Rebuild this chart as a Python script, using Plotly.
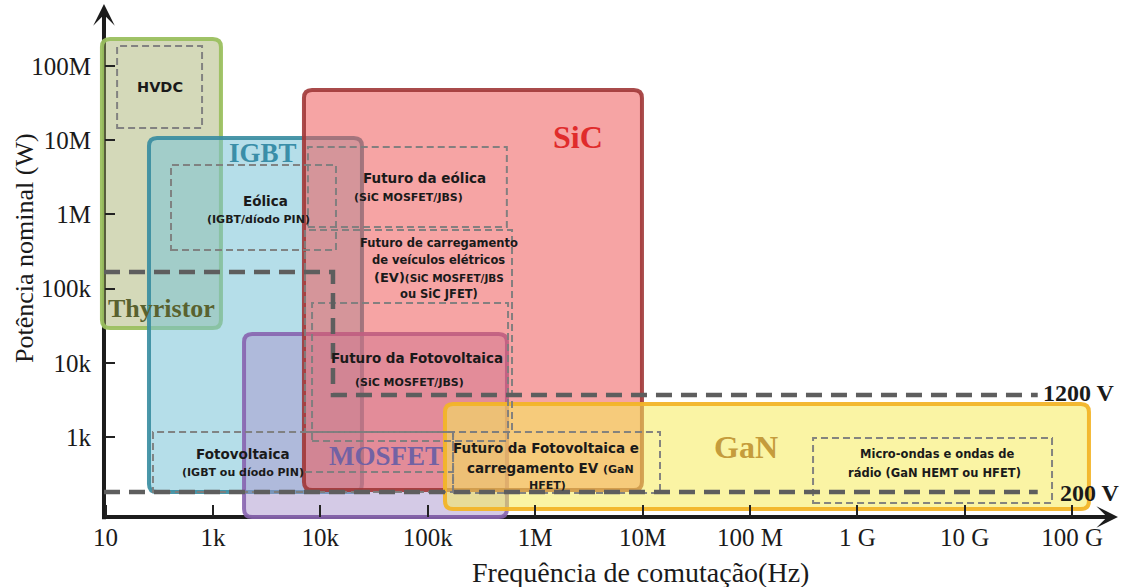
import plotly.graph_objects as go

# ---------------- data (x: decade position on frequency axis, y: log10 of power in W) -------------
freq_tick_pos = [0, 1, 2, 3, 4, 5, 6, 7, 8, 9]
freq_tick_labels = ["10", "1k", "10k", "100k", "1M", "10M", "100 M", "1 G", "10 G", "100 G"]
power_tick_pos = [3, 4, 5, 6, 7, 8]
power_tick_labels = ["1k", "10k", "100k", "1M", "10M", "100M"]

# drawing order: Thyristor, IGBT, MOSFET, SiC, GaN
device_names = ["Thyristor", "IGBT", "MOSFET", "SiC", "GaN"]
device_f_lo = [-0.033, 0.405, 1.290, 1.848, 3.161]
device_f_hi = [1.075, 2.388, 3.738, 4.995, 9.157]
device_p_lo = [4.469, 2.259, 1.922, 2.286, 2.030]
device_p_hi = [8.364, 7.030, 4.388, 7.677, 3.445]

app_names = ["HVDC", "Eólica", "Futuro da eólica", "Futuro EV", "Futuro da Fotovoltaica",
             "Fotovoltaica", "Futuro GaN", "Micro-ondas"]
app_f_lo = [0.108, 0.610, 1.885, 1.858, 1.923, 0.442, 3.236, 6.588]
app_f_hi = [0.899, 2.146, 3.737, 3.785, 3.748, 3.236, 5.163, 8.813]
app_p_lo = [7.164, 5.520, 5.830, 3.067, 2.946, 2.259, 2.245, 2.111]
app_p_hi = [8.270, 6.666, 6.908, 5.790, 4.806, 3.067, 3.067, 2.987]
extra_seg_f = [1.858, 3.236]
extra_seg_p = 2.528

v1200_f = [-0.014, 2.118, 2.118, 8.68]
v1200_p = [5.224, 5.224, 3.566, 3.566]
v200_f = [-0.014, 8.68]
v200_p = [2.259, 2.259]

# ---------------- layout geometry ----------------
X_RANGE = [-0.0605, 9.446]
Y_RANGE = [1.881, 8.849]
X_ORIGIN, Y_ORIGIN = -0.014, 1.922
X_TIP, Y_TIP = 9.427, 8.835

dev_line = ["rgba(155,192,95,0.95)", "rgba(55,140,160,0.9)", "rgba(135,100,175,0.9)",
            "rgba(160,55,55,0.9)", "rgba(242,180,40,0.95)"]
dev_fill = ["rgba(160,170,100,0.45)", "rgba(120,195,215,0.55)", "rgba(170,150,205,0.5)",
            "rgba(238,90,90,0.55)", "rgba(245,235,90,0.55)"]
dev_label_pos = [(0.526, 4.725), (1.466, 6.827), (2.612, 2.744), (4.399, 7.043), (5.964, 2.865)]
dev_label_color = ["#59622f", "#3a8ea8", "#7262a4", "#e02b2b", "#c59c3c"]
dev_label_size = [26, 27, 27, 32, 32]

RX, RY = 0.075, 0.108


def rounded(x0, y0, x1, y1, rx=RX, ry=RY):
    return (f"M{x0+rx},{y0} L{x1-rx},{y0} Q{x1},{y0} {x1},{y0+ry} L{x1},{y1-ry} "
            f"Q{x1},{y1} {x1-rx},{y1} L{x0+rx},{y1} Q{x0},{y1} {x0},{y1-ry} "
            f"L{x0},{y0+ry} Q{x0},{y0} {x0+rx},{y0} Z")


shapes = []
# axis lines (under the boxes)
shapes.append(dict(type="line", xref="x", yref="y", x0=X_ORIGIN, x1=X_TIP - 0.1, y0=Y_ORIGIN, y1=Y_ORIGIN,
                   line=dict(color="#1c1c1c", width=4), layer="below"))
shapes.append(dict(type="line", xref="x", yref="y", x0=X_ORIGIN, x1=X_ORIGIN, y0=Y_ORIGIN - 0.03, y1=Y_TIP - 0.15,
                   line=dict(color="#1c1c1c", width=4), layer="below"))

for i in range(len(device_names)):
    shapes.append(dict(type="path", xref="x", yref="y",
                       path=rounded(device_f_lo[i], device_p_lo[i], device_f_hi[i], device_p_hi[i]),
                       fillcolor=dev_fill[i], line=dict(color=dev_line[i], width=4), layer="below"))

for i in range(len(app_names)):
    shapes.append(dict(type="rect", xref="x", yref="y",
                       x0=app_f_lo[i], x1=app_f_hi[i], y0=app_p_lo[i], y1=app_p_hi[i],
                       fillcolor="rgba(0,0,0,0)",
                       line=dict(color="rgba(125,125,125,0.95)", width=2, dash="7px,4px"), layer="below"))
shapes.append(dict(type="line", xref="x", yref="y", x0=extra_seg_f[0], x1=extra_seg_f[1],
                   y0=extra_seg_p, y1=extra_seg_p,
                   line=dict(color="rgba(125,125,125,0.95)", width=2, dash="7px,4px"), layer="below"))

p1200 = "M" + " L".join(f"{f},{p}" for f, p in zip(v1200_f, v1200_p))
shapes.append(dict(type="path", xref="x", yref="y", path=p1200,
                   line=dict(color="#5e5e5e", width=4.5, dash="16px,9px"), layer="below"))
shapes.append(dict(type="line", xref="x", yref="y", x0=v200_f[0], x1=v200_f[1], y0=v200_p[0], y1=v200_p[1],
                   line=dict(color="#5e5e5e", width=4.5, dash="16px,9px"), layer="below"))

SANS = "DejaVu Sans"
SERIF = "Liberation Serif"
annotations = []


def txt(text, x, y, size, family=SANS, color="#1a1a1a", weight="bold", xanchor="center"):
    annotations.append(dict(text=text, x=x, y=y, xref="x", yref="y", showarrow=False,
                            xanchor=xanchor, yanchor="middle",
                            font=dict(family=family, size=size, color=color, weight=weight)))


for i, name in enumerate(device_names):
    txt(name, dev_label_pos[i][0], dev_label_pos[i][1], dev_label_size[i], family=SERIF,
        color=dev_label_color[i])

app_texts = [
    ("HVDC", 0.507, 7.717, 14.5),
    ("Eólica", 1.494, 6.181, 13.5),
    ("(IGBT/díodo PIN)", 1.420, 5.925, 11),
    ("Futuro da eólica", 2.966, 6.491, 13.5),
    ("(SiC MOSFET/JBS)", 2.817, 6.221, 11),
    ("Futuro de carregamento", 3.105, 5.615, 11.5),
    ("de veículos elétricos", 3.105, 5.385, 11.5),
    ("(EV)<span style='font-size:10.5px'>(SiC MOSFET/JBS</span>", 3.105, 5.156, 13),
    ("ou SiC JFET)", 3.105, 4.927, 11.5),
    ("Futuro da Fotovoltaica", 2.900, 4.065, 13.5),
    ("(SiC MOSFET/JBS)", 2.835, 3.728, 11),
    ("Fotovoltaica", 1.280, 2.771, 13.5),
    ("(IGBT ou díodo PIN)", 1.280, 2.515, 11),
    ("Futuro da Fotovoltaica e", 4.101, 2.852, 13.5),
    ("carregamento EV <span style='font-size:11px'>(GaN</span>", 4.148, 2.582, 13.5),
    ("HFET)", 4.111, 2.340, 11),
    ("Micro-ondas e ondas de", 7.742, 2.771, 11.5),
    ("rádio (GaN HEMT ou HFET)", 7.723, 2.515, 11.5),
]
for t, x, y, s in app_texts:
    txt(t, x, y, s)

txt("1200 V", 8.71, 3.593, 24, family=SERIF, xanchor="left")
txt("200 V", 8.87, 2.245, 24, family=SERIF, xanchor="left")

# arrow heads
annotations.append(dict(x=X_TIP, y=Y_ORIGIN, xref="x", yref="y", ax=-30, ay=0, text="", showarrow=True,
                        arrowhead=3, arrowsize=0.9, arrowwidth=4, arrowcolor="#1c1c1c", standoff=0))
annotations.append(dict(x=X_ORIGIN, y=Y_TIP, xref="x", yref="y", ax=0, ay=30, text="", showarrow=True,
                        arrowhead=3, arrowsize=0.9, arrowwidth=4, arrowcolor="#1c1c1c", standoff=0))

# axis titles
annotations.append(dict(text="Potência nominal (W)", xref="paper", yref="paper", x=-0.0735, y=0.526,
                        textangle=-90, showarrow=False, xanchor="center", yanchor="middle",
                        font=dict(family=SERIF, size=26, color="#1a1a1a")))
annotations.append(dict(text="Frequência de comutação(Hz)", xref="paper", yref="paper", x=0.530, y=-0.1006,
                        showarrow=False, xanchor="center", yanchor="middle",
                        font=dict(family=SERIF, size=28, color="#1a1a1a")))

fig = go.Figure()
fig.update_layout(
    width=1129, height=587,
    margin=dict(l=99, r=9, t=3, b=67),
    paper_bgcolor="white", plot_bgcolor="white",
    showlegend=False,
    shapes=shapes, annotations=annotations,
    xaxis=dict(range=X_RANGE, showgrid=False, zeroline=False, showline=False,
               tickmode="array", tickvals=freq_tick_pos, ticktext=freq_tick_labels,
               ticks="inside", ticklen=12, tickwidth=2, tickcolor="#222",
               anchor="free", position=3 / 517, ticklabelstandoff=3,
               tickfont=dict(family=SERIF, size=25, color="#1a1a1a"), fixedrange=True),
    yaxis=dict(range=Y_RANGE, showgrid=False, zeroline=False, showline=False,
               tickmode="array", tickvals=power_tick_pos, ticktext=power_tick_labels,
               ticks="inside", ticklen=10, tickwidth=2, tickcolor="#222",
               anchor="free", position=5 / 1021, ticklabelstandoff=13,
               tickfont=dict(family=SERIF, size=25, color="#1a1a1a"), fixedrange=True),
)
fig.write_html("out.html")
